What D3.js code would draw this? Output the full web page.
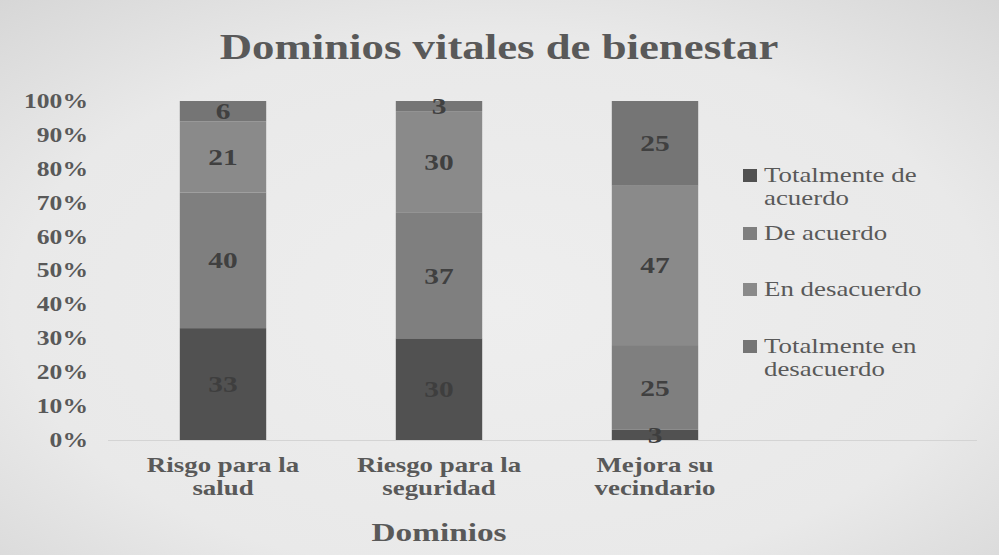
<!DOCTYPE html>
<html>
<head>
<meta charset="UTF-8">
<script src="https://d3js.org/d3.v7.min.js"></script>
</head>
<body style="margin:0">
<script>
    // Data
    const categories = [["Risgo para la", "salud"], ["Riesgo para la", "seguridad"], ["Mejora su", "vecindario"]];
    const series = ["Totalmente de acuerdo", "De acuerdo", "En desacuerdo", "Totalmente en desacuerdo"];
    const totalmenteDeAcuerdo = [33, 30, 3];
    const deAcuerdo = [40, 37, 25];
    const enDesacuerdo = [21, 30, 47];
    const totalmenteEnDesacuerdo = [6, 3, 25];
    const yTicks = [0, 10, 20, 30, 40, 50, 60, 70, 80, 90, 100];
    const legendLines = [["Totalmente de", "acuerdo"], ["De acuerdo"], ["En desacuerdo"], ["Totalmente en", "desacuerdo"]];

    const colors = ["#515151", "#7f7f7f", "#8a8a8a", "#757575"];
    const labelColors = ["#3e3e3e", "#404040", "#404040", "#404040"];
    const FONT = "'Liberation Serif'";
    const SX = 1.28; // the original picture is stretched sideways

    const W = 999, H = 555;
    const margin = { top: 101, right: 22, bottom: 115, left: 115 };
    const plotRight = W - margin.right;
    const plotBottom = H - margin.bottom;

    const svg = d3.select("body").append("svg").attr("width", W).attr("height", H);

    // background with soft vignette
    const grad = svg.append("defs").append("radialGradient")
        .attr("id", "bg")
        .attr("cx", "50%").attr("cy", "55%").attr("r", "75%");
    grad.append("stop").attr("offset", "0%").attr("stop-color", "#eeeeee");
    grad.append("stop").attr("offset", "65%").attr("stop-color", "#e9e9e9");
    grad.append("stop").attr("offset", "100%").attr("stop-color", "#d6d6d6");
    svg.append("rect").attr("width", W).attr("height", H).attr("fill", "url(#bg)");

    const rows = categories.map((c, i) => ({
        key: c.join(" "),
        lines: c,
        [series[0]]: totalmenteDeAcuerdo[i],
        [series[1]]: deAcuerdo[i],
        [series[2]]: enDesacuerdo[i],
        [series[3]]: totalmenteEnDesacuerdo[i]
    }));

    const stacked = d3.stack().keys(series).offset(d3.stackOffsetExpand)(rows);

    const x = d3.scaleBand()
        .domain(rows.map(d => d.key))
        .range([margin.left, margin.left + 3 * 216])
        .paddingInner(0.6)
        .paddingOuter(0.3);

    const y = d3.scaleLinear().domain([0, 1]).range([plotBottom, margin.top]);

    const stretch = (tx, ty) => "translate(" + tx + "," + ty + ") scale(" + SX + ",1)";

    // baseline
    svg.append("line")
        .attr("x1", margin.left - 7).attr("x2", plotRight)
        .attr("y1", y(0) + 0.5).attr("y2", y(0) + 0.5)
        .attr("stroke", "#d4d4d4");

    // bars
    svg.append("g").selectAll("g")
        .data(stacked).enter().append("g")
        .attr("fill", (d, i) => colors[i])
        .selectAll("rect")
        .data(d => d).enter().append("rect")
        .attr("x", d => x(d.data.key))
        .attr("width", x.bandwidth())
        .attr("y", d => y(d[1]))
        .attr("height", d => y(d[0]) - y(d[1]));

    // data labels
    stacked.forEach((layer, i) => {
        svg.append("g").selectAll("text")
            .data(layer).enter().append("text")
            .attr("transform", d => stretch(x(d.data.key) + x.bandwidth() / 2, (y(d[0]) + y(d[1])) / 2))
            .attr("dy", "0.35em")
            .attr("text-anchor", "middle")
            .style("font-family", FONT)
            .attr("font-size", 23)
            .attr("font-weight", "bold")
            .attr("fill", labelColors[i])
            .text(d => d.data[layer.key]);
    });

    // y axis
    const yAxis = svg.append("g")
        .attr("transform", "translate(" + (margin.left - 27) + ",0)")
        .call(d3.axisLeft(y)
            .tickValues(yTicks.map(v => v / 100))
            .tickFormat(v => Math.round(v * 100) + "%")
            .tickSize(0)
            .tickPadding(0));
    yAxis.attr("font-family", null).attr("font-size", null);
    yAxis.select(".domain").remove();
    yAxis.selectAll(".tick text")
        .attr("transform", "scale(" + SX + ",1)")
        .style("font-family", FONT)
        .attr("font-size", 20)
        .attr("font-weight", "bold")
        .attr("fill", "#595959");

    // x axis
    const xAxis = svg.append("g")
        .attr("transform", "translate(0," + plotBottom + ")")
        .call(d3.axisBottom(x).tickSize(0).tickFormat(""));
    xAxis.attr("font-family", null).attr("font-size", null);
    xAxis.select(".domain").remove();
    xAxis.selectAll(".tick text").remove();
    xAxis.selectAll(".tick").append("text")
        .attr("transform", "scale(" + SX + ",1)")
        .attr("text-anchor", "middle")
        .style("font-family", FONT)
        .attr("font-size", 21)
        .attr("font-weight", "bold")
        .attr("fill", "#595959")
        .selectAll("tspan")
        .data(k => rows.find(r => r.key === k).lines)
        .enter().append("tspan")
        .attr("x", 0)
        .attr("y", (d, i) => 32 + i * 23)
        .text(d => d);

    // title
    svg.append("text")
        .attr("transform", stretch(499, 59))
        .attr("text-anchor", "middle")
        .style("font-family", FONT)
        .attr("font-size", 35)
        .attr("font-weight", "bold")
        .attr("fill", "#595959")
        .text("Dominios vitales de bienestar");

    // axis title
    svg.append("text")
        .attr("transform", stretch(x(rows[1].key) + x.bandwidth() / 2, 541))
        .attr("text-anchor", "middle")
        .style("font-family", FONT)
        .attr("font-size", 26)
        .attr("font-weight", "bold")
        .attr("fill", "#595959")
        .text("Dominios");

    // legend
    const legendY = [175, 233, 289, 346];
    const legend = svg.append("g").selectAll("g")
        .data(series).enter().append("g")
        .attr("transform", (d, i) => "translate(743," + legendY[i] + ")");
    legend.append("rect")
        .attr("y", -6)
        .attr("width", 14)
        .attr("height", 13)
        .attr("fill", (d, i) => colors[i]);
    legend.append("text")
        .attr("transform", stretch(21, 0))
        .style("font-family", FONT)
        .attr("font-size", 21)
        .attr("fill", "#595959")
        .selectAll("tspan")
        .data((d, i) => legendLines[i])
        .enter().append("tspan")
        .attr("x", 0)
        .attr("y", (d, i) => 7 + i * 23)
        .text(d => d);
</script>
</body>
</html>
